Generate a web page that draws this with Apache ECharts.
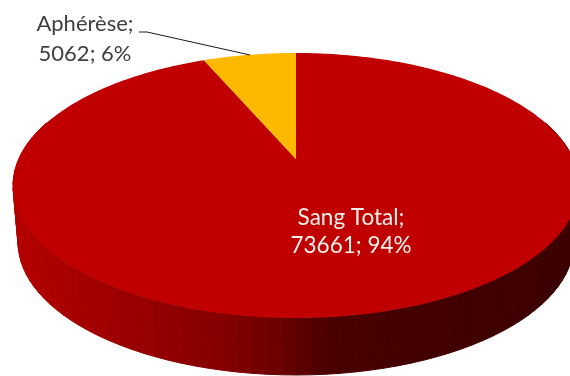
<!DOCTYPE html>
<html>
<head>
<meta charset="utf-8">
<style>html,body{margin:0;padding:0;background:#fff}#chart{width:570px;height:376px}</style>
<script src="https://cdn.jsdelivr.net/npm/echarts@6/dist/echarts.min.js"></script>
</head>
<body>
<div id="chart"></div>
<script>
// Blood collections by method
const categories = ['Sang Total', 'Aphérèse'];
const values = [73661, 5062];
const sliceColors = ['#c00000', '#fcb900'];
const labelColors = ['#f4f0ec', '#404040'];

// Tilted disc: a unit circle seen through a perspective projection
const disc = { cx: 296, cy: 159, a: 277.3, b: 127.2, k: 0.2, depth: 57, baseScale: 0.982 };
// Rim shading from left to right of the disc
const rimStops = [[13, [180, 0, 0]], [110, [158, 0, 0]], [215, [134, 0, 0]], [275, [110, 0, 0]], [330, [74, 0, 0]], [440, [66, 0, 0]], [570, [60, 0, 0]]];
const labelAnchors = [[351, 232], [85, 38.5]];
const labelFonts = ['22.5px Lato', '22px Lato'];
const leader = [[139, 32], [147, 32], [250, 55]];

const total = values.reduce((s, v) => s + v, 0);

// theta is measured clockwise from the far edge of the disc
function project(theta) {
  const u = Math.sin(theta), v = -Math.cos(theta);
  const d = 1 - disc.k * v;
  return [disc.cx + disc.a * u / d, disc.cy + disc.b * v / d];
}
function projectBase(theta) {
  const p = project(theta);
  return [disc.cx + (p[0] - disc.cx) * disc.baseScale, p[1] + disc.depth];
}
function rimColor(x) {
  let i = 0;
  while (i < rimStops.length - 2 && x > rimStops[i + 1][0]) i++;
  const [x0, c0] = rimStops[i], [x1, c1] = rimStops[i + 1];
  const t = Math.max(0, Math.min(1, (x - x0) / (x1 - x0)));
  const c = c0.map((n, j) => Math.round(n + (c1[j] - n) * t));
  return `rgb(${c[0]},${c[1]},${c[2]})`;
}
function sliceRange(index) {
  let before = 0;
  for (let i = 0; i < index; i++) before += values[i];
  return [before / total * 2 * Math.PI, (before + values[index]) / total * 2 * Math.PI];
}

const tops = (params, api) => {
  const i = params.dataIndex;
  const value = api.value(0);
  const [start, end] = sliceRange(i);
  const children = [];

  // Rim strips on the near half of the disc
  const step = 2.5 * Math.PI / 180;
  for (let t = start; t < end; t += step) {
    const t2 = Math.min(t + step, end);
    if (Math.cos((t + t2) / 2) > 0.3) continue;
    const a = project(t), b = project(t2), c = projectBase(t2), d = projectBase(t);
    const col = rimColor((a[0] + b[0]) / 2);
    children.push({
      type: 'polygon', z2: 1,
      shape: { points: [a, b, c, d] },
      style: { fill: col, stroke: col, lineWidth: 1 }
    });
  }

  // Top face of the slice
  const pts = [[disc.cx, disc.cy]];
  const n = Math.max(8, Math.ceil((end - start) / (Math.PI / 180)));
  for (let j = 0; j <= n; j++) pts.push(project(start + (end - start) * j / n));
  children.push({
    type: 'polygon', z2: 5,
    shape: { points: pts },
    style: { fill: sliceColors[i] }
  });

  // Data label, with a leader for the small slice
  const pct = Math.round(value / total * 100);
  if (i === 1) {
    children.push({
      type: 'polyline', z2: 6,
      shape: { points: leader },
      style: { stroke: '#1a1a1a', lineWidth: 1, fill: null }
    });
  }
  children.push({
    type: 'text', z2: 7,
    style: {
      text: `${categories[i]};\n${value}; ${pct}%`,
      x: labelAnchors[i][0], y: labelAnchors[i][1],
      align: 'center', verticalAlign: 'middle',
      fill: labelColors[i],
      font: labelFonts[i], lineHeight: i === 0 ? 28 : 30
    }
  });
  return { type: 'group', children };
};

const chart = echarts.init(document.getElementById('chart'), null, { renderer: 'canvas' });
chart.setOption({
  animation: false,
  backgroundColor: '#fff',
  series: [{
    type: 'custom',
    coordinateSystem: 'none',
    silent: true,
    clip: false,
    renderItem: tops,
    data: values.map((v, i) => ({ name: categories[i], value: [v] }))
  }]
});
</script>
</body>
</html>
